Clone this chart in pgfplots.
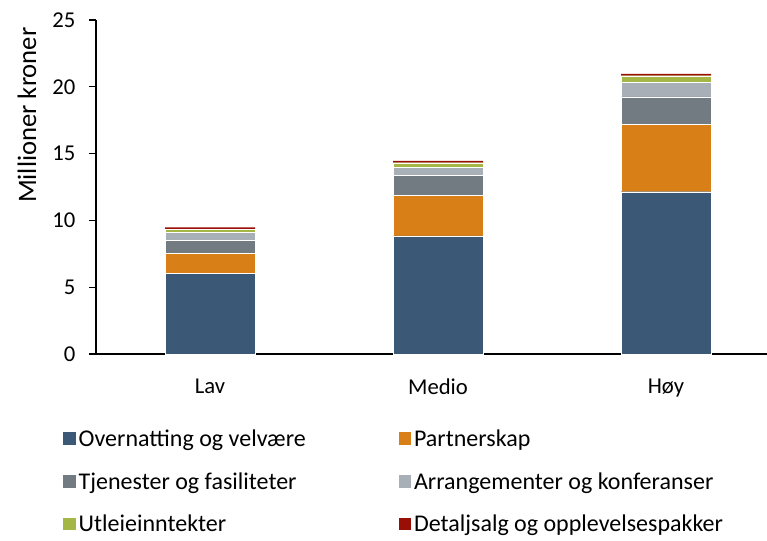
\documentclass[border=0pt]{standalone}
\usepackage{pgfplots}
\pgfplotsset{compat=1.18}
\usepackage{fontspec}
\setmainfont{Carlito}
\definecolor{c1}{HTML}{3B5877}
\definecolor{c2}{HTML}{D97F17}
\definecolor{c3}{HTML}{737B82}
\definecolor{c4}{HTML}{A8AFB6}
\definecolor{c5}{HTML}{A3B646}
\definecolor{c6}{HTML}{9A0F05}
\begin{document}
\begin{tikzpicture}
\clip (0,0) rectangle (575.25pt,405pt);
\begin{axis}[
  at={(72pt,139.5pt)}, anchor=south west,
  scale only axis, width=503.25pt, height=250.5pt,
  ybar stacked, bar width=67.5pt,
  xmin=-0.5, xmax=2.443, ymin=0, ymax=25,
  xtick={0,1,2}, xticklabels={Lav,Medio,H\o y},
  ytick={0,5,...,25},
  axis lines*=left,
  axis line style={line width=1.2pt},
  x tick style={draw=none},
  y tick style={black, line width=1pt},
  tick align=outside, major tick length=5pt,
  tick label style={font=\fontsize{17}{20}\selectfont},
  /pgf/number format/assume math mode=true,
  yticklabel style={xshift=-7pt},
  xticklabel style={yshift=-10pt},
  ylabel={Millioner kroner},
  ylabel style={font=\fontsize{20}{24}\selectfont, at={(axis description cs:-0.103,0.715)}, anchor=center, rotate=0},
  every axis plot/.append style={draw=white, line width=0.2pt},
  legend columns=2,
  legend style={draw=none, fill=none, at={(axis description cs:-0.049,-0.218)}, anchor=north west,
    font=\fontsize{18}{21}\selectfont, row sep=14pt, inner sep=0pt,
    nodes={inner sep=2pt}},
  legend cell align=left,
  legend image code/.code={\fill[#1, draw=none] (0pt,-4.5pt) rectangle (9.5pt,5pt);},
]
\addplot[fill=c1] coordinates {(0,6.04) (1,8.85) (2,12.15)};
\addplot[fill=c2] coordinates {(0,1.50) (1,3.05) (2,5.04)};
\addplot[fill=c3] coordinates {(0,0.99) (1,1.48) (2,2.05)};
\addplot[fill=c4] coordinates {(0,0.60) (1,0.59) (2,1.10)};
\addplot[fill=c5] coordinates {(0,0.20) (1,0.35) (2,0.49)};
\addplot[fill=c6, draw=none] coordinates {(0,0.15) (1,0.13) (2,0.13)};
\addlegendentry{\makebox[238pt][l]{Overnatting og velvære}}
\addlegendentry{Partnerskap}
\addlegendentry{\makebox[238pt][l]{Tjenester og fasiliteter}}
\addlegendentry{Arrangementer og konferanser}
\addlegendentry{\makebox[238pt][l]{Utleieinntekter}}
\addlegendentry{Detaljsalg og opplevelsespakker}
\end{axis}
\end{tikzpicture}
\end{document}
